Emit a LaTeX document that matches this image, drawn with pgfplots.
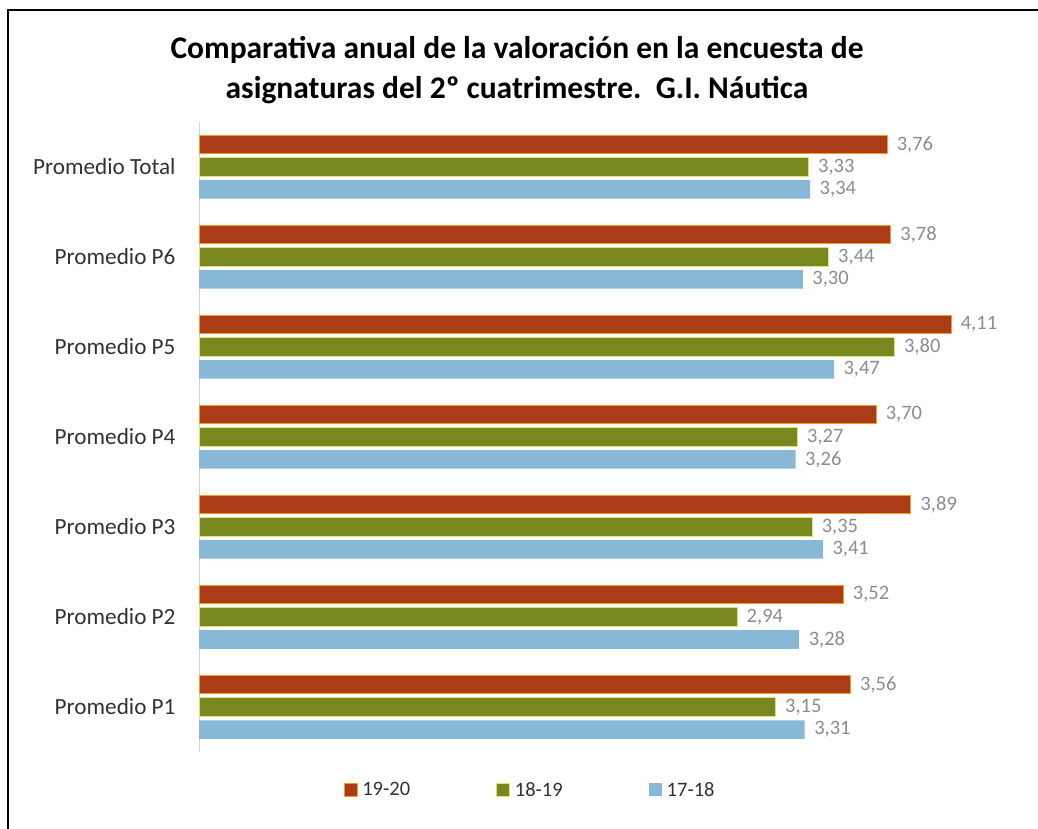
\documentclass[border=0pt]{standalone}
\usepackage{pgfplots}
\pgfplotsset{compat=1.18}
\usepackage{fontspec}
\setmainfont{Carlito}
\definecolor{cRed}{RGB}{170,60,24}
\definecolor{cRedE}{RGB}{240,160,40}
\definecolor{cGreen}{RGB}{120,136,30}
\definecolor{cGreenE}{RGB}{225,225,120}
\definecolor{cBlue}{RGB}{135,184,213}
\definecolor{cLab}{RGB}{140,140,140}
\definecolor{cTick}{RGB}{50,50,50}
\definecolor{cAxis}{RGB}{210,210,210}
\begin{document}
\begin{tikzpicture}
\useasboundingbox (0,0) rectangle (1038bp,829bp);
\draw[line width=2bp,black] (8bp,0) -- (8bp,819bp) -- (1038bp,819bp);
\node[align=center,font=\fontsize{31.5bp}{40bp}\selectfont\bfseries,text=black] at (517bp,759bp)
  {Comparativa anual de la valoración en la encuesta de\\asignaturas del 2º cuatrimestre.\ \ G.I. Náutica};
\begin{axis}[
  at={(199bp,77bp)}, anchor=south west,
  scale only axis, width=823.5bp, height=630bp,
  xbar=4bp, bar width=18.5bp,
  xmin=0, xmax=4.5, ymin=-0.5, ymax=6.5,
  axis x line=none, axis y line*=left,
  y axis line style={cAxis, line width=1bp},
  ytick={0,1,2,3,4,5,6},
  yticklabels={Promedio P1,Promedio P2,Promedio P3,Promedio P4,Promedio P5,Promedio P6,Promedio Total},
  major tick length=0pt,
  yticklabel style={font=\fontsize{23.2bp}{26bp}\selectfont, text=cTick, xshift=-20bp},
  nodes near coords,
  every node near coord/.append style={font=\fontsize{20.5bp}{22bp}\selectfont, text=cLab, anchor=west, xshift=6bp,
     /pgf/number format/.cd, use comma, fixed, fixed zerofill, precision=2, assume math mode=true},
  /pgf/number format/assume math mode=true,
  clip=false,
  reverse legend,
  legend columns=3,
  legend style={at={(rel axis cs:0.402,-0.0603)}, anchor=center, draw=none, fill=none,
     font=\fontsize{20.5bp}{24bp}\selectfont, text=cTick,
     /tikz/every odd column/.append style={column sep=3bp},
     /tikz/every even column/.append style={column sep=84bp}},
  legend image code/.code={\path[#1] (0bp,-6.5bp) rectangle (13bp,6.5bp);},
]
\addplot[fill=cBlue, draw=none] coordinates {(3.31,0) (3.28,1) (3.41,2) (3.26,3) (3.47,4) (3.30,5) (3.34,6)};
\addplot[fill=cGreen, draw=cGreenE, line width=0.8bp] coordinates {(3.15,0) (2.94,1) (3.35,2) (3.27,3) (3.80,4) (3.44,5) (3.33,6)};
\addplot[fill=cRed, draw=cRedE, line width=0.8bp] coordinates {(3.56,0) (3.52,1) (3.89,2) (3.70,3) (4.11,4) (3.78,5) (3.76,6)};
\legend{17-18,18-19,19-20}
\end{axis}
\end{tikzpicture}
\end{document}
